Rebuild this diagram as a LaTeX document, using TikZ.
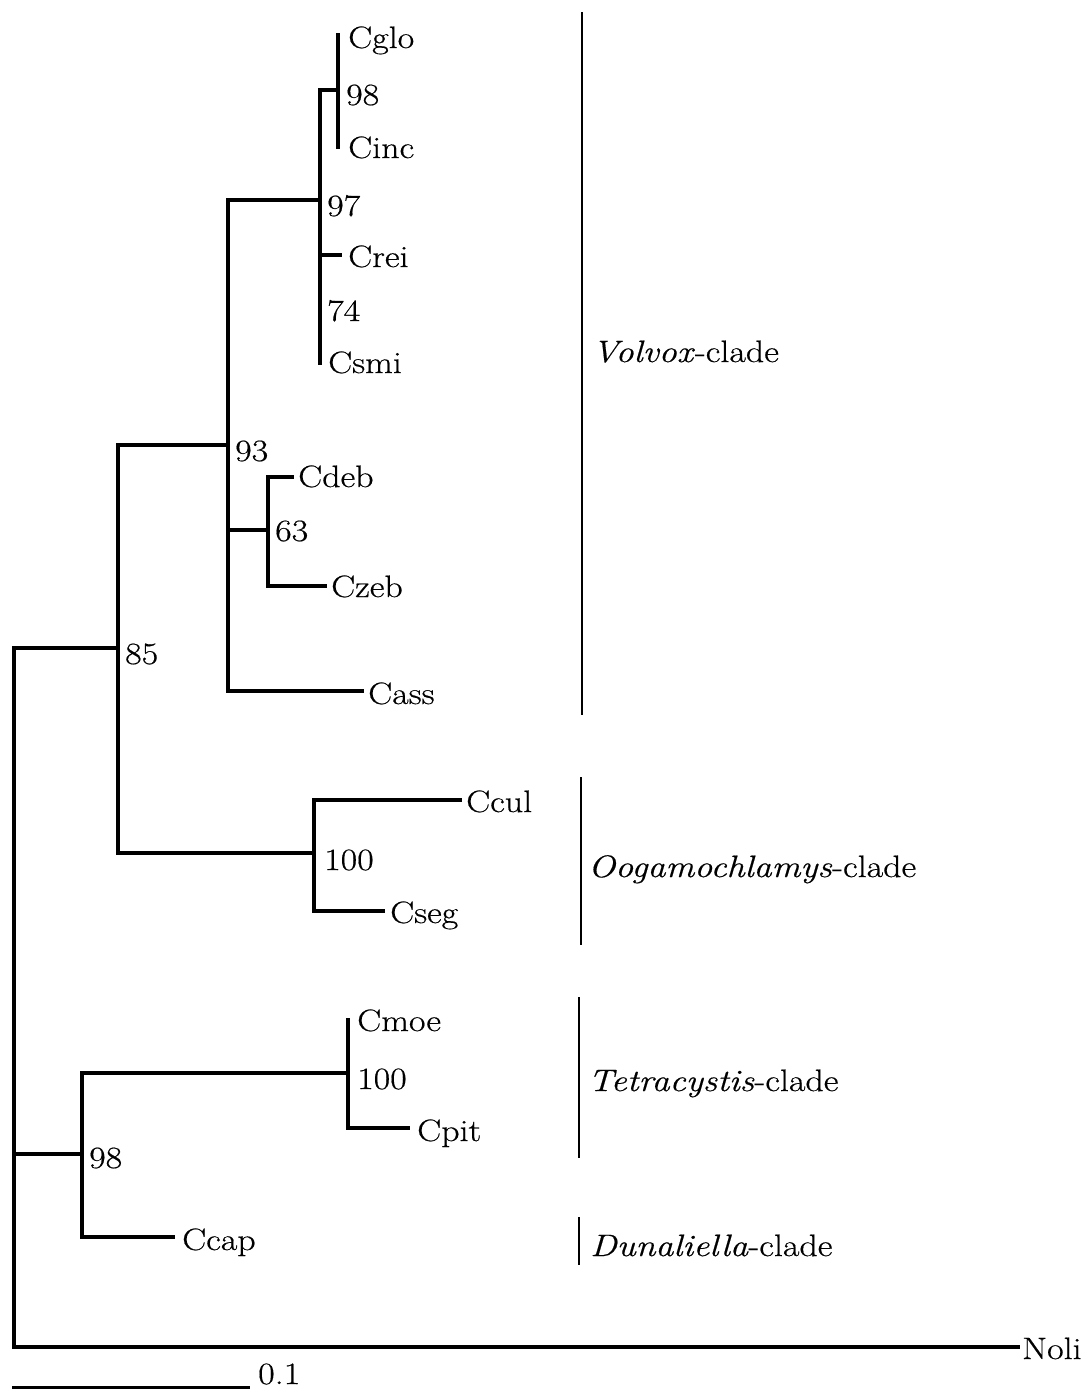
\documentclass[tikz,border=0pt]{standalone}
\usepackage{fontspec}
\setmainfont{Latin Modern Roman}[FakeStretch=1.16,FakeBold=0.5]
\begin{document}
\begin{tikzpicture}[x=1pt,y=-1pt,
  br/.style={line width=3.8pt,line join=miter,line cap=rect},
  cladebar/.style={line width=2pt},
  lbl/.style={anchor=base west,inner sep=0pt,font=\fontsize{31}{36}\selectfont},
  boot/.style={anchor=base west,inner sep=0pt,font=\fontsize{31}{36}\selectfont}]
\useasboundingbox (0,0) rectangle (1088,1392);
% internal nodes
\coordinate (R) at (14,1154);
\coordinate (n85) at (118,648);
\coordinate (n93) at (228,445);
\coordinate (n97) at (320,200);
\coordinate (n98a) at (338,90);
\coordinate (n63) at (268,530);
\coordinate (n100a) at (314,853);
\coordinate (n98b) at (82,1154);
\coordinate (n100b) at (348,1073);
% tips
\coordinate (tCglo) at (338,35);
\coordinate (tCinc) at (338,147);
\coordinate (tCrei) at (340,255);
\coordinate (tCsmi) at (320,363);
\coordinate (tCdeb) at (292,477);
\coordinate (tCzeb) at (325,586);
\coordinate (tCass) at (362,691);
\coordinate (tCcul) at (460,800);
\coordinate (tCseg) at (383,911);
\coordinate (tCmoe) at (348,1020);
\coordinate (tCpit) at (408,1128);
\coordinate (tCcap) at (173,1237);
\coordinate (tNoli) at (1018,1347);
% branches
\draw[br] (R) |- (n85);
\draw[br] (R) |- (n98b);
\draw[br] (R) |- (tNoli);
\draw[br] (n85) |- (n93);
\draw[br] (n85) |- (n100a);
\draw[br] (n93) |- (n97);
\draw[br] (n93) |- (n63);
\draw[br] (n93) |- (tCass);
\draw[br] (n97) |- (n98a);
\draw[br] (n97) |- (tCrei);
\draw[br] (n97) |- (tCsmi);
\draw[br] (n98a) |- (tCglo);
\draw[br] (n98a) |- (tCinc);
\draw[br] (n63) |- (tCdeb);
\draw[br] (n63) |- (tCzeb);
\draw[br] (n100a) |- (tCcul);
\draw[br] (n100a) |- (tCseg);
\draw[br] (n98b) |- (n100b);
\draw[br] (n98b) |- (tCcap);
\draw[br] (n100b) |- (tCmoe);
\draw[br] (n100b) |- (tCpit);
% leaf labels
\node[lbl] (Cglo) at (348,48) {Cglo};
\node[lbl] (Cinc) at (348,158) {Cinc};
\node[lbl] (Crei) at (348,267) {Crei};
\node[lbl] (Csmi) at (328,373) {Csmi};
\node[lbl] (Cdeb) at (298,487) {Cdeb};
\node[lbl] (Czeb) at (331,597) {Czeb};
\node[lbl] (Cass) at (368,704) {Cass};
\node[lbl] (Ccul) at (466,812) {Ccul};
\node[lbl] (Cseg) at (390,923) {Cseg};
\node[lbl] (Cmoe) at (357,1031) {Cmoe};
\node[lbl] (Cpit) at (417,1141) {Cpit};
\node[lbl] (Ccap) at (182,1250) {Ccap};
\node[lbl] (Noli) at (1022,1359) {Noli};
% bootstrap values
\node[boot] (b98a) at (346,105) {98};
\node[boot] (b97) at (327,216) {97};
\node[boot] (b74) at (327,321) {74};
\node[boot] (b93) at (235,461) {93};
\node[boot] (b63) at (275,541) {63};
\node[boot] (b85) at (125,664) {85};
\node[boot] (b100a) at (324,870) {100};
\node[boot] (b100b) at (357,1089) {100};
\node[boot] (b98b) at (89,1168) {98};
% clade bars
\coordinate (vA) at (582,12);   \coordinate (vB) at (582,715);
\coordinate (oA) at (581,777);  \coordinate (oB) at (581,945);
\coordinate (tA) at (579,997);  \coordinate (tB) at (579,1158);
\coordinate (dA) at (579,1217); \coordinate (dB) at (579,1265);
\draw[cladebar] (vA) -- (vB);
\draw[cladebar] (oA) -- (oB);
\draw[cladebar] (tA) -- (tB);
\draw[cladebar] (dA) -- (dB);
\node[lbl] (Lv) at (592,362) {\textit{Volvox}-clade};
\node[lbl] (Lo) at (588,877) {\textit{Oogamochlamys}-clade};
\node[lbl] (Lt) at (588,1091) {\textit{Tetracystis}-clade};
\node[lbl] (Ld) at (590,1256) {\textit{Dunaliella}-clade};
% scale bar
\coordinate (sA) at (12,1387);
\coordinate (sB) at (250,1387);
\draw[line width=3pt] (sA) -- (sB);
\node[lbl] (sc) at (258,1384) {0.1};
\end{tikzpicture}
\end{document}
